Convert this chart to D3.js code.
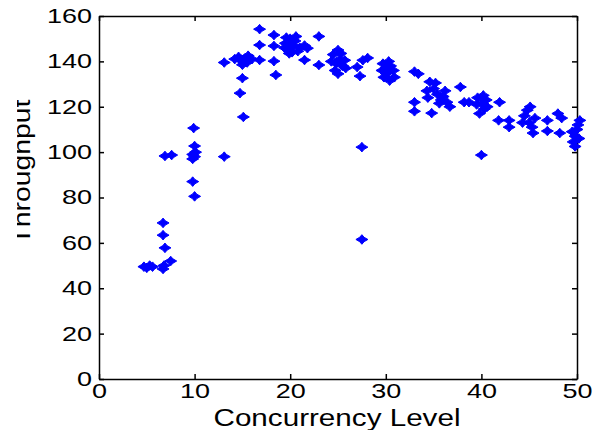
<!DOCTYPE html>
<html>
<head>
<meta charset="utf-8">
<script src="https://cdn.jsdelivr.net/npm/d3@7"></script>
<style>
  body { margin: 0; background: #fff; }
  svg { display: block; }
  .axis path, .axis line { stroke: #000; stroke-width: 1.5; }
  .axis text { font-family: "Liberation Sans", Arial, sans-serif; font-size: 20px; fill: #000; }
  .label { font-family: "Liberation Sans", Arial, sans-serif; fill: #000; }
</style>
</head>
<body>
<div id="chart"></div>
<script>
// data
var level = [
  4.7, 5.0, 5.3, 5.6, 6.7, 6.8, 7.5, 6.9, 6.7, 6.7,
  6.9, 7.6, 9.8, 10.0, 9.8, 10.1, 10.0, 9.9, 9.8, 10.0,
  13.1, 13.1, 14.2, 14.6, 15.0, 15.3, 15.6, 15.0, 15.5, 14.8,
  16.0, 15.0, 14.75, 15.1, 16.8, 16.8, 16.8, 18.3, 18.3, 18.3,
  18.5, 19.5, 20.0, 20.3, 19.8, 20.5, 21.0, 19.6, 20.2, 21.8,
  21.5, 21.5, 23.0, 23.0, 24.5, 25.0, 25.2, 24.8, 25.5, 24.3,
  25.0, 25.7, 27.0, 28.1, 27.6, 27.3, 27.5, 27.5, 29.7, 30.0,
  30.2, 29.8, 30.4, 30.5, 30.8, 33.0, 33.4, 33.0, 33.0, 34.6,
  35.0, 35.4, 34.4, 35.8, 36.2, 34.8, 36.7, 36.4, 37.8, 38.2,
  38.7, 39.6, 40.0, 40.3, 39.8, 40.5, 40.0, 41.9, 41.8, 42.9,
  42.9, 44.5, 45.0, 44.8, 45.3, 45.4, 46.9, 46.9, 48.0, 48.4,
  48.2, 49.8, 50.0, 49.6, 50.1, 49.8,
  19.4, 20.6, 20.8, 19.9, 25.3, 24.7, 25.8, 29.6, 30.3, 30.9,
  35.2, 34.3, 35.6, 36.0, 39.5, 40.2, 40.6, 45.6, 44.3, 45.1,
  50.2, 49.5, 50.3
];
var throughput = [
  49.5, 49, 50, 49.5, 48.5, 50, 52, 57.8, 63.4, 68.8,
  98.3, 98.7, 97, 98, 99, 100, 102.7, 110.6, 87, 80.5,
  98, 139.5, 141, 142, 140, 141.5, 142.5, 138.5, 139.5, 140.8,
  141, 132.6, 126, 115.5, 140.6, 147.2, 154.2, 151.6, 146.8, 140.1,
  134, 148, 150, 147, 145, 149, 146, 150.5, 144, 145.8,
  140.6, 147, 151, 138.4, 143, 145, 141, 139, 138, 140,
  134.5, 140.5, 137.5, 141.5, 140.5, 133.5, 102.2, 61.5, 139, 137,
  135, 133, 131.5, 138, 136, 135.5, 134.5, 122, 118, 131,
  128, 125.5, 124, 123, 127, 117.2, 120, 122, 128.7, 122,
  122, 124, 121.5, 119, 117, 123, 98.7, 122, 114, 114,
  111, 116, 113, 118.5, 111, 108.4, 114, 109.3, 117, 115,
  108.4, 107, 110, 104.5, 112, 102.5,
  146, 151, 144.5, 143.5, 143.5, 136, 137, 136, 140, 133,
  130.5, 127, 121.5, 124.5, 121, 125, 120, 115, 113, 120,
  106, 109, 114
];
var xTicks = [0, 10, 20, 30, 40, 50];
var yTicks = [0, 20, 40, 60, 80, 100, 120, 140, 160];

var W = 593, H = 430;
var margin = {left: 99, top: 16, right: 16, bottom: 51};
var width = W - margin.left - margin.right,
    height = H - margin.top - margin.bottom;
var stretch = 1.35; // the picture's text looks wide

var svg = d3.select("#chart").append("svg")
  .attr("width", W).attr("height", H);

svg.append("defs").append("clipPath").attr("id", "lblclip")
  .append("rect").attr("x", 17).attr("y", 0).attr("width", 100).attr("height", H);

var g = svg.append("g")
  .attr("transform", "translate(" + margin.left + "," + margin.top + ")");

var x = d3.scaleLinear().domain([0, 50]).range([0, width]);
var y = d3.scaleLinear().domain([0, 160]).range([height, 0]);

// axes, ticks point inward like matlab
g.append("g").attr("class", "axis")
  .attr("transform", "translate(0," + height + ")")
  .call(d3.axisBottom(x).tickValues(xTicks).tickSizeInner(-5).tickSizeOuter(0).tickPadding(5));
g.append("g").attr("class", "axis")
  .call(d3.axisLeft(y).tickValues(yTicks).tickSizeInner(-5).tickSizeOuter(0).tickPadding(7));
g.append("g").attr("class", "axis")
  .call(d3.axisTop(x).tickValues(xTicks).tickSizeInner(-5).tickSizeOuter(0).tickFormat(""));
g.append("g").attr("class", "axis")
  .attr("transform", "translate(" + width + ",0)")
  .call(d3.axisRight(y).tickValues(yTicks).tickSizeInner(-5).tickSizeOuter(0).tickFormat(""));

g.selectAll(".axis text").each(function(){
  var t = d3.select(this);
  var tx = +t.attr("x") || 0;
  t.attr("x", tx / stretch).attr("transform", "scale(" + stretch + ",1)");
});

// markers
function star(s){
  var p = d3.path(), a = 2.2;
  p.moveTo(0, -s * 0.8);
  p.lineTo(a, -a);
  p.lineTo(s, 0);
  p.lineTo(a, a);
  p.lineTo(0, s * 0.8);
  p.lineTo(-a, a);
  p.lineTo(-s, 0);
  p.lineTo(-a, -a);
  p.closePath();
  return p.toString();
}

g.append("g").selectAll("path")
    .data(d3.range(level.length))
  .enter().append("path")
    .attr("d", star(6))
    .attr("transform", function(i){ return "translate(" + x(level[i]) + "," + y(throughput[i]) + ")"; })
    .attr("fill", "#0000ff")
    .attr("stroke", "#0000ff")
    .attr("stroke-width", 1);

// labels
svg.append("text").attr("class", "label")
  .attr("x", margin.left + width / 2 - 1).attr("y", 426)
  .attr("text-anchor", "middle")
  .attr("font-size", 23)
  .attr("textLength", 247).attr("lengthAdjust", "spacingAndGlyphs")
  .text("Concurrency Level");

svg.append("g").attr("clip-path", "url(#lblclip)")
  .append("text").attr("class", "label")
  .attr("transform", "translate(30,172) rotate(-90)")
  .attr("text-anchor", "middle")
  .attr("font-size", 24)
  .attr("textLength", 145).attr("lengthAdjust", "spacingAndGlyphs")
  .text("Throughput");
</script>
</body>
</html>
